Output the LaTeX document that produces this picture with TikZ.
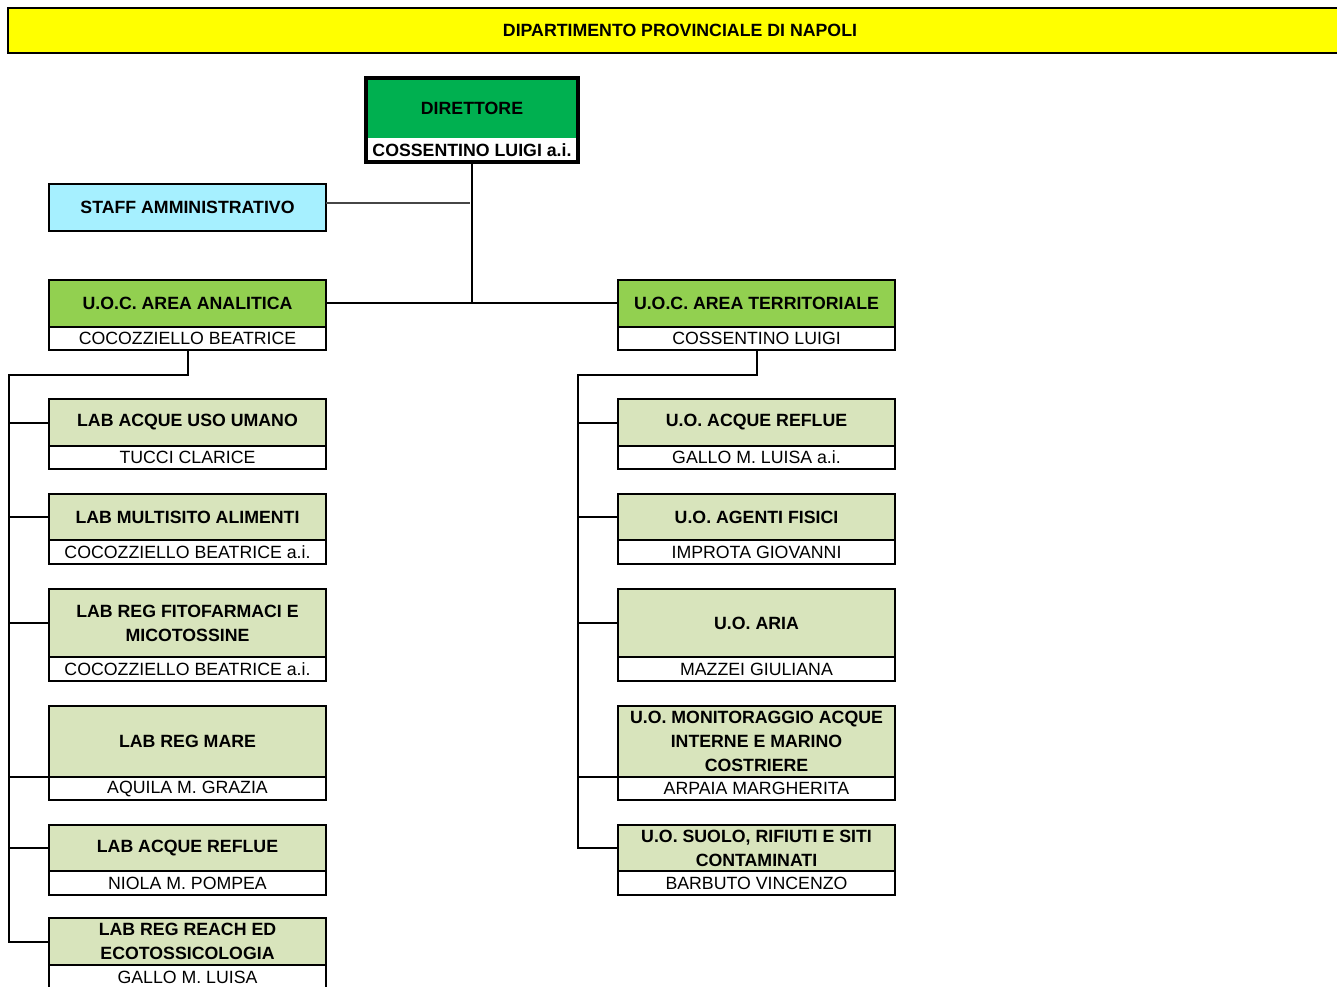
\documentclass[tikz,border=0pt]{standalone}
\usepackage{fontspec}
\setmainfont{Liberation Sans}
\definecolor{bannerfill}{RGB}{255,255,0}
\definecolor{dirgreen}{RGB}{0,176,80}
\definecolor{uocgreen}{RGB}{146,208,80}
\definecolor{uogreen}{RGB}{216,228,188}
\definecolor{staffcyan}{RGB}{166,240,255}
\definecolor{staffline}{RGB}{70,70,70}
\tikzset{
  base/.style={inner sep=0pt, outer sep=0pt, align=center, font=\fontsize{13.3}{18}\selectfont},
  hdr/.style={base, draw, line width=1.5pt, fill=uogreen, font=\fontsize{13.3}{18}\selectfont\bfseries},
  uoc/.style={hdr, fill=uocgreen},
  staffbox/.style={hdr, fill=staffcyan},
  bannerbox/.style={hdr, fill=bannerfill},
  person/.style={base, draw, line width=1.5pt, fill=white},
  dirtop/.style={base, fill=dirgreen, font=\fontsize{13.3}{18}\selectfont\bfseries},
  dirname/.style={base, fill=white, font=\fontsize{13.3}{18}\selectfont\bfseries},
  link/.style={line width=1.5pt},
  stafflink/.style={line width=0.9pt, draw=staffline},
}
% #1 style, #2 x1, #3 y1, #4 x2, #5 y2, #6 name  (pixel units)
\newcommand\orgbox[6]{\node[#1, minimum width={(#4-#2)*0.75pt}, minimum height={(#5-#3)*0.75pt}] (#6) at ({(#2+#4)/2},{(#3+#5)/2})}
\begin{document}
\begin{tikzpicture}[x=0.75pt,y=-0.75pt]
\useasboundingbox (0,0) rectangle (1337,987);
\fill[white] (0,0) rectangle (1337,987);

% banner
\orgbox{bannerbox}{8}{8}{1352}{53}{banner} {DIPARTIMENTO PROVINCIALE DI NAPOLI};

% director
\orgbox{dirtop}{366}{78}{578}{138}{dirt} {DIRETTORE};
\orgbox{dirname}{366}{138}{578}{162}{dirp} {COSSENTINO LUIGI a.i.};
\draw[line width=2.8pt] (dirt.north west) rectangle (dirp.south east);

% staff
\orgbox{staffbox}{49}{184}{326}{231}{staff} {STAFF AMMINISTRATIVO};

% left column
\orgbox{uoc}{49}{280}{326}{327}{a0t} {U.O.C. AREA ANALITICA};
\orgbox{person}{49}{327}{326}{350}{a0p} {COCOZZIELLO BEATRICE};
\orgbox{hdr}{49}{399}{326}{446}{a1t} {LAB ACQUE USO UMANO};
\orgbox{person}{49}{446}{326}{469}{a1p} {TUCCI CLARICE};
\orgbox{hdr}{49}{494}{326}{540}{a2t} {LAB MULTISITO ALIMENTI};
\orgbox{person}{49}{540}{326}{564}{a2p} {COCOZZIELLO BEATRICE a.i.};
\orgbox{hdr}{49}{589}{326}{657}{a3t} {LAB REG FITOFARMACI E\\MICOTOSSINE};
\orgbox{person}{49}{657}{326}{681}{a3p} {COCOZZIELLO BEATRICE a.i.};
\orgbox{hdr}{49}{706}{326}{777}{a4t} {LAB REG MARE};
\orgbox{person}{49}{777}{326}{800}{a4p} {AQUILA M. GRAZIA};
\orgbox{hdr}{49}{825}{326}{871}{a5t} {LAB ACQUE REFLUE};
\orgbox{person}{49}{871}{326}{895}{a5p} {NIOLA M. POMPEA};
\orgbox{hdr}{49}{918}{326}{965}{a6t} {LAB REG REACH ED\\ECOTOSSICOLOGIA};
\orgbox{person}{49}{965}{326}{989}{a6p} {GALLO M. LUISA};

% right column
\orgbox{uoc}{618}{280}{895}{327}{b0t} {U.O.C. AREA TERRITORIALE};
\orgbox{person}{618}{327}{895}{350}{b0p} {COSSENTINO LUIGI};
\orgbox{hdr}{618}{399}{895}{446}{b1t} {U.O. ACQUE REFLUE};
\orgbox{person}{618}{446}{895}{469}{b1p} {GALLO M. LUISA a.i.};
\orgbox{hdr}{618}{494}{895}{540}{b2t} {U.O. AGENTI FISICI};
\orgbox{person}{618}{540}{895}{564}{b2p} {IMPROTA GIOVANNI};
\orgbox{hdr}{618}{589}{895}{657}{b3t} {U.O. ARIA};
\orgbox{person}{618}{657}{895}{681}{b3p} {MAZZEI GIULIANA};
\orgbox{hdr}{618}{706}{895}{777}{b4t} {U.O. MONITORAGGIO ACQUE\\INTERNE E MARINO\\COSTRIERE};
\orgbox{person}{618}{777}{895}{800}{b4p} {ARPAIA MARGHERITA};
\orgbox{hdr}{618}{825}{895}{871}{b5t} {U.O. SUOLO, RIFIUTI E SITI\\CONTAMINATI};
\orgbox{person}{618}{871}{895}{895}{b5p} {BARBUTO VINCENZO};

% connectors
\coordinate (J) at (dirp.south |- a0t.east);
\draw[link] (dirp.south) -- (J);
\draw[link] (a0t.east) -- (b0t.west);
\coordinate (S) at (470,203);
\draw[stafflink] (S -| staff.east) -- (S);

\coordinate (LT) at (9,375);
\draw[link] (a0p.south) |- (LT) -- (LT |- a6t.west) -- (a6t.west);
\foreach \n in {a1t,a2t,a3t,a5t} \draw[link] (LT |- \n.west) -- (\n.west);
\draw[link] (LT |- a4t.south west) -- (a4t.south west);

\coordinate (RT) at (578,375);
\draw[link] (b0p.south) |- (RT) -- (RT |- b5t.west) -- (b5t.west);
\foreach \n in {b1t,b2t,b3t} \draw[link] (RT |- \n.west) -- (\n.west);
\draw[link] (RT |- b4t.south west) -- (b4t.south west);
\end{tikzpicture}
\end{document}
